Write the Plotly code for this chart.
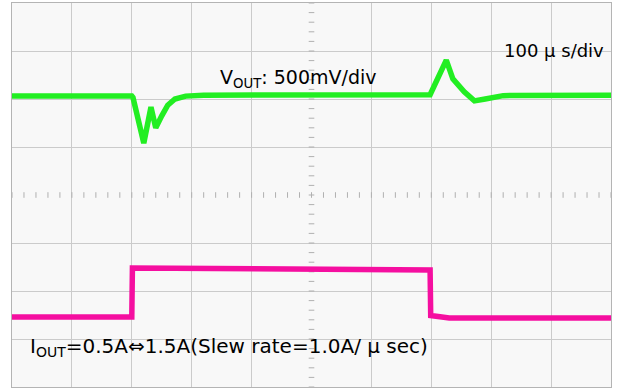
import numpy as np
import plotly.graph_objects as go

# time axis in us (100 us/div), vertical axis in divisions
t_vout = [0, 200, 202, 220, 232, 240, 250, 260, 272, 290, 320, 698, 725, 736, 755, 772, 790, 820, 1000]
vout = [2.06, 2.06, 2.03, 1.08, 1.83, 1.40, 1.65, 1.87, 2.0, 2.06, 2.08, 2.09, 2.81, 2.42, 2.15, 1.96, 2.0, 2.07, 2.08]

t_iout = [0, 200, 201, 698, 699, 730, 1000]
iout = [-2.54, -2.54, -1.52, -1.56, -2.51, -2.56, -2.56]

grid_x = [100, 200, 300, 400, 600, 700, 800, 900]
grid_y = [-3, -2, -1, 1, 2, 3]

green = '#22ee22'
magenta = '#f50fa0'

fig = go.Figure()

# centre lines of the scope screen, drawn as small tick marks
cx = np.arange(0, 1001, 20)
cy = np.arange(-4, 4.01, 0.2)
fig.add_trace(go.Scatter(x=cx, y=[0]*len(cx), mode='markers',
    marker=dict(symbol='line-ns', size=4, line=dict(color='#b0b0b0', width=1)),
    hoverinfo='skip', showlegend=False))
fig.add_trace(go.Scatter(x=[500]*len(cy), y=cy, mode='markers',
    marker=dict(symbol='line-ew', size=4, line=dict(color='#b0b0b0', width=1)),
    hoverinfo='skip', showlegend=False))

fig.add_trace(go.Scatter(x=t_vout, y=vout, mode='lines', name='VOUT',
    line=dict(color=green, width=5.5), showlegend=False))
fig.add_trace(go.Scatter(x=t_iout, y=iout, mode='lines', name='IOUT',
    line=dict(color=magenta, width=5.5), showlegend=False))

font = 'DejaVu Sans'
fig.add_annotation(x=818, y=3.02, xref='x', yref='y', text='100 \u00b5 s/div',
    showarrow=False, xanchor='left', yanchor='middle',
    font=dict(family=font, size=18, color='black'))
fig.add_annotation(x=344, y=2.42, xref='x', yref='y', text='V<sub>OUT</sub>: 500mV/div',
    showarrow=False, xanchor='left', yanchor='middle',
    font=dict(family=font, size=19, color='black'))
fig.add_annotation(x=27, y=-3.17, xref='x', yref='y',
    text='I<sub>OUT</sub>=0.5A\u21d41.5A(Slew rate=1.0A/ \u00b5 sec)',
    showarrow=False, xanchor='left', yanchor='middle',
    font=dict(family=font, size=20, color='black'))

fig.update_xaxes(range=[0, 1000], tickvals=grid_x, showticklabels=False, ticks='',
    showgrid=True, gridcolor='#cbcbcb', gridwidth=1, zeroline=False,
    showline=True, linecolor='#b4b4b4', linewidth=1, mirror=True)
fig.update_yaxes(range=[-4, 4], tickvals=grid_y, showticklabels=False, ticks='',
    showgrid=True, gridcolor='#cbcbcb', gridwidth=1, zeroline=False,
    showline=True, linecolor='#b4b4b4', linewidth=1, mirror=True)

fig.update_layout(
    width=619, height=388,
    margin=dict(l=12, r=8, t=3, b=1),
    paper_bgcolor='white',
    plot_bgcolor='#f8f8f8',
)

fig.write_html("out.html", config={'displayModeBar': False},
               post_script="document.body.style.margin='0';")
